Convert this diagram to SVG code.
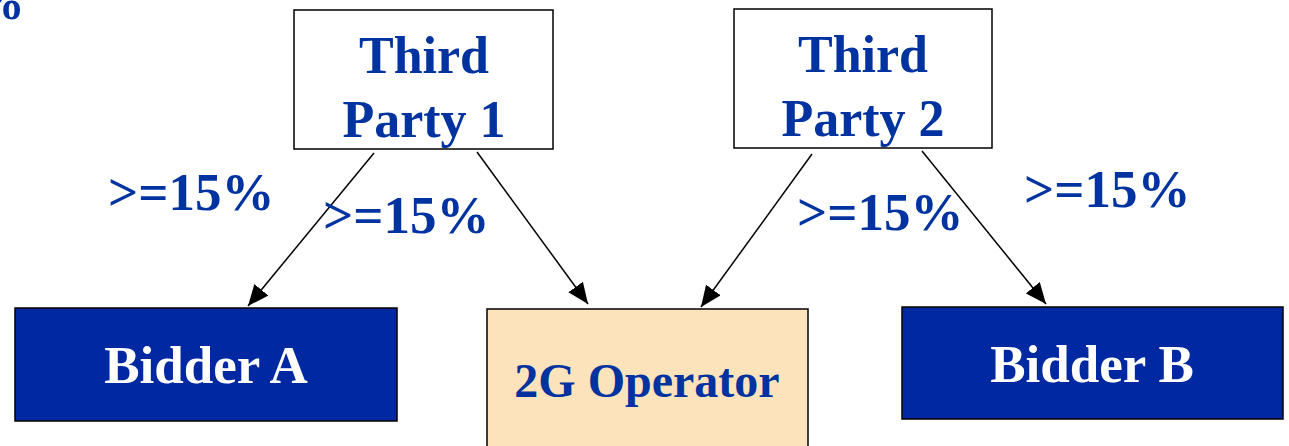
<svg xmlns="http://www.w3.org/2000/svg" width="1289" height="446" viewBox="0 0 1289 446">
  <defs>
    <marker id="arrow" markerUnits="userSpaceOnUse" markerWidth="22" markerHeight="18" viewBox="0 0 22 18" refX="21" refY="9" orient="auto">
      <path d="M0,0 L21,9 L0,18 z" fill="#000"/>
    </marker>
    <style>
      text { font-family: "Liberation Serif", "Times New Roman", serif; font-weight: bold; }
      .blue { fill: #0033A0; }
      .white { fill: #FFFFFF; }
      .t52 { font-size: 52px; }
      .t53 { font-size: 53px; }
      .t48 { font-size: 48px; }
      .box { stroke: #000; stroke-width: 1.5; }
      .conn { stroke: #000; stroke-width: 1.5; fill: none; marker-end: url(#arrow); }
    </style>
  </defs>
  <rect width="1289" height="446" fill="#FFFFFF"/>

  <text class="blue t53" x="-28" y="19">%</text>

  <g id="third-party-1">
    <rect class="box" x="294" y="10" width="259" height="139" fill="#FFFFFF"/>
    <text class="blue t52" x="424" y="73" text-anchor="middle">Third</text>
    <text class="blue t52" x="424" y="137" text-anchor="middle">Party 1</text>
  </g>

  <g id="third-party-2">
    <rect class="box" x="734" y="9" width="258" height="139" fill="#FFFFFF"/>
    <text class="blue t52" x="863" y="72" text-anchor="middle">Third</text>
    <text class="blue t52" x="863" y="136" text-anchor="middle">Party 2</text>
  </g>

  <g id="bidder-a">
    <rect class="box" x="15" y="308" width="382" height="113" fill="#0028A0"/>
    <text class="white t53" x="206" y="383" text-anchor="middle">Bidder A</text>
  </g>

  <g id="operator-2g">
    <rect class="box" x="487" y="309" width="321" height="150" fill="#FCE3BC"/>
    <text class="blue t48" x="647" y="397" text-anchor="middle">2G Operator</text>
  </g>

  <g id="bidder-b">
    <rect class="box" x="902" y="307" width="381" height="112" fill="#0028A0"/>
    <text class="white t53" x="1092" y="382" text-anchor="middle">Bidder B</text>
  </g>

  <g id="connectors">
    <line class="conn" x1="374" y1="153" x2="248" y2="306"/>
    <line class="conn" x1="477" y1="152" x2="588" y2="304"/>
    <line class="conn" x1="812" y1="154" x2="701" y2="307"/>
    <line class="conn" x1="922" y1="151" x2="1046" y2="304"/>
  </g>

  <g id="labels">
    <text class="blue t53" x="108" y="210">&gt;=15%</text>
    <text class="blue t53" x="323" y="233">&gt;=15%</text>
    <text class="blue t53" x="797" y="230">&gt;=15%</text>
    <text class="blue t53" x="1024" y="207">&gt;=15%</text>
  </g>
</svg>
